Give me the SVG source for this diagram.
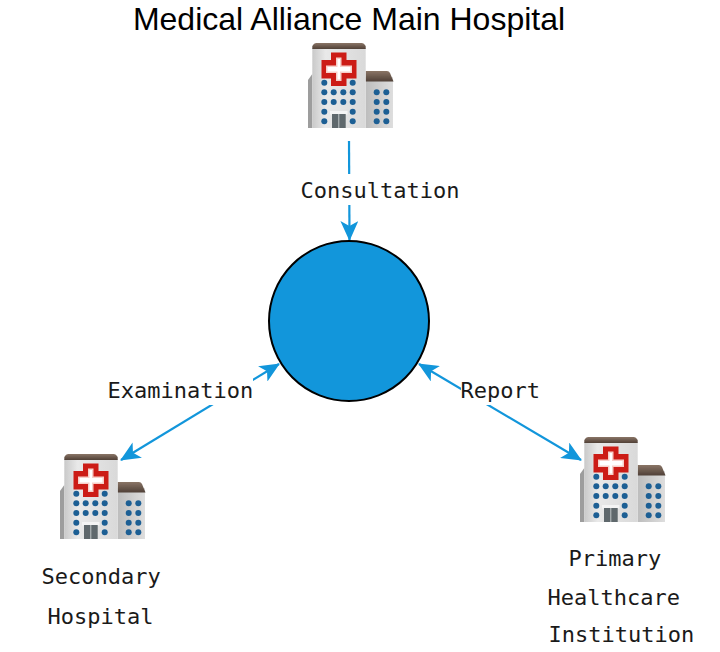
<svg xmlns="http://www.w3.org/2000/svg" xmlns:xlink="http://www.w3.org/1999/xlink" width="720" height="652" viewBox="0 0 720 652">
<style>
.lbl{font-family:"DejaVu Sans Mono",monospace;font-size:22px;fill:#1a1a1a}
.title{font-family:"Liberation Sans",Arial,sans-serif;font-size:32px;fill:#000}
.conn{fill:none;stroke:#1296db;stroke-width:2.2}
.w{fill:#1f5f94}
.mask{fill:#fff}
</style>
<defs>
<marker id="ah" viewBox="0 0 20 18" refX="19" refY="9" markerWidth="20" markerHeight="18" markerUnits="userSpaceOnUse" orient="auto-start-reverse">
<path d="M0 0L20 9L0 18L5 9Z" fill="#1296db"/>
</marker>
<linearGradient id="body" x1="0" x2="1" y1="0" y2="0"><stop offset="0" stop-color="#c9c9c9"/><stop offset=".25" stop-color="#e9e9e9"/><stop offset="1" stop-color="#d9d9d9"/></linearGradient>
<linearGradient id="wing" x1="0" x2="1" y1="0" y2="0"><stop offset="0" stop-color="#bdbdbd"/><stop offset="1" stop-color="#dedede"/></linearGradient>
<linearGradient id="roof" x1="0" x2="0" y1="0" y2="1"><stop offset="0" stop-color="#8a7566"/><stop offset="1" stop-color="#4f4037"/></linearGradient>
<filter id="soft" x="-5%" y="-5%" width="110%" height="110%"><feGaussianBlur stdDeviation="0.5"/></filter>
<symbol id="hospital" viewBox="0 0 86 86" width="86" height="86" overflow="visible">
<g filter="url(#soft)">
<path d="M0 37L4.300 31V85H0Z" fill="#9d9d9d"/>
<path d="M57.700 34H85V85H57.700Z" fill="url(#wing)"/>
<path d="M57.700 38.500V28H79Q81 28 82 30L85.500 38.500Z" fill="url(#roof)"/>
<rect x="4.300" y="5" width="53.400" height="80" fill="url(#body)"/>
<path d="M4.300 6V3Q6 0 8 0H54Q56 0 57.700 3V6Z" fill="url(#roof)"/>
<path d="M23 9.500H38.500V17H48.500V35.500H38.500V43H23V35.500H13.500V17H23Z" fill="#cc1d14"/>
<path d="M28 14.500H33.500V22.500H44V30H33.500V38H28V30H18V22.500H28Z" fill="#f7cfc9"/>
<path d="M29.500 16H32V24H42.500V28.500H32V36.500H29.500V28.500H19.500V24H29.500Z" fill="#fff"/>
<circle class="w" cx="16.300" cy="39.700" r="3"/><circle class="w" cx="44.700" cy="39.700" r="3"/>
<circle class="w" cx="16.300" cy="49.300" r="3"/><circle class="w" cx="25.700" cy="49.300" r="3"/><circle class="w" cx="35.300" cy="49.300" r="3"/><circle class="w" cx="44.700" cy="49.300" r="3"/>
<circle class="w" cx="16.300" cy="59" r="3"/><circle class="w" cx="25.700" cy="59" r="3"/><circle class="w" cx="35.300" cy="59" r="3"/><circle class="w" cx="44.700" cy="59" r="3"/>
<circle class="w" cx="16.300" cy="68.700" r="3"/><circle class="w" cx="44.700" cy="68.700" r="3"/>
<circle class="w" cx="16.300" cy="78.300" r="3"/><circle class="w" cx="44.700" cy="78.300" r="3"/>
<circle class="w" cx="68.700" cy="49.300" r="3"/><circle class="w" cx="78.300" cy="49.300" r="3"/>
<circle class="w" cx="68.700" cy="59" r="3"/><circle class="w" cx="78.300" cy="59" r="3"/>
<circle class="w" cx="68.700" cy="68.700" r="3"/><circle class="w" cx="78.300" cy="68.700" r="3"/>
<circle class="w" cx="68.700" cy="78.300" r="3"/><circle class="w" cx="78.300" cy="78.300" r="3"/>
<rect x="22" y="68" width="17.500" height="3.500" fill="#f4f4f4"/>
<rect x="24" y="71" width="13.700" height="14" fill="#5f686c"/>
<path d="M30.800 71V85" stroke="#c0c6c8" stroke-width="1"/>
</g>
</symbol>
</defs>
<rect width="720" height="652" fill="#fff"/>
<g id="connectors">
<path class="conn" d="M349 141L349.500 240" marker-end="url(#ah)"/>
<path class="conn" d="M279 364L121 460" marker-start="url(#ah)" marker-end="url(#ah)"/>
<path class="conn" d="M419 364L581 460" marker-start="url(#ah)" marker-end="url(#ah)"/>
</g>
<g id="connector-labels">
<rect class="mask" x="301" y="174" width="158" height="31"/>
<text class="lbl" x="300.500" y="198">Consultation</text>
<rect class="mask" x="108" y="375" width="145" height="30"/>
<text class="lbl" x="107.500" y="398">Examination</text>
<rect class="mask" x="461" y="375" width="79" height="30"/>
<text class="lbl" x="460.500" y="398">Report</text>
</g>
<g id="center-node"><circle cx="349" cy="321" r="80" fill="#1296db" stroke="#000" stroke-width="2"/></g>
<g id="main-hospital">
<text class="title" x="349" y="30" text-anchor="middle">Medical Alliance Main Hospital</text>
<use xlink:href="#hospital" href="#hospital" x="308" y="43"/>
</g>
<g id="secondary-hospital">
<use xlink:href="#hospital" href="#hospital" x="60" y="454"/>
<text class="lbl" x="41.500" y="584">Secondary</text>
<text class="lbl" x="47.500" y="624">Hospital</text>
</g>
<g id="primary-institution">
<use xlink:href="#hospital" href="#hospital" x="580" y="437"/>
<text class="lbl" x="568.500" y="566">Primary</text>
<text class="lbl" x="547.500" y="605">Healthcare</text>
<text class="lbl" x="548.500" y="642">Institution</text>
</g>
</svg>
